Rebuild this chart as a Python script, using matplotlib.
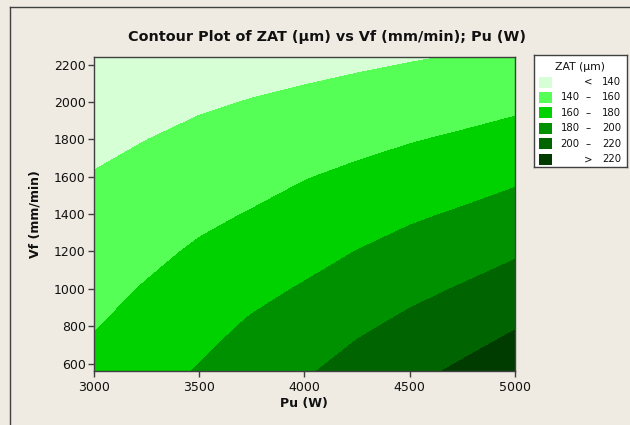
import numpy as np
import matplotlib
matplotlib.use("Agg")
import matplotlib.pyplot as plt
from matplotlib.patches import Rectangle
from matplotlib.lines import Line2D

# Process grid: laser power Pu (W) and feed rate Vf (mm/min)
pu = [3000, 3250, 3500, 3750, 4000, 4250, 4500, 4750, 5000]
vf = [560, 800, 1000, 1200, 1400, 1600, 1800, 2000, 2240]

# ZAT (um) on the grid, one list per Vf row (bottom to top), columns follow pu
zat_560 = [165.3, 173.0, 181.3, 190.1, 197.7, 207.4, 215.1, 223.0, 231.7]
zat_800 = [159.1, 166.6, 174.1, 182.3, 188.9, 196.9, 204.3, 211.3, 218.9]
zat_1000 = [154.6, 161.3, 168.2, 175.4, 181.5, 188.6, 195.3, 201.4, 208.3]
zat_1200 = [150.0, 155.9, 162.3, 168.2, 174.1, 180.3, 186.3, 191.7, 197.7]
zat_1400 = [145.4, 150.6, 156.2, 161.0, 166.7, 172.0, 177.3, 182.0, 187.4]
zat_1600 = [140.8, 145.2, 150.1, 154.2, 159.2, 163.6, 168.1, 172.2, 177.0]
zat_1800 = [136.3, 139.9, 144.0, 147.5, 151.4, 155.1, 158.9, 162.4, 166.5]
zat_2000 = [131.7, 134.5, 137.8, 140.7, 143.6, 146.6, 149.7, 152.7, 156.0]
zat_2240 = [126.2, 128.1, 130.5, 132.7, 134.2, 136.4, 138.7, 141.1, 143.6]

levels = [140, 160, 180, 200, 220]
colors = ["#D6FFD6", "#55FF55", "#00D200", "#009100", "#006400", "#003C00"]
x_ticks = [3000, 3500, 4000, 4500, 5000]
y_ticks = [600, 800, 1000, 1200, 1400, 1600, 1800, 2000, 2200]

Z = np.array([zat_560, zat_800, zat_1000, zat_1200, zat_1400,
              zat_1600, zat_1800, zat_2000, zat_2240])
X, Y = np.meshgrid(pu, vf)

BG = "#EFEBE2"
EDGE = "#404040"
FONT = "DejaVu Sans"
plt.rcParams["font.family"] = FONT

W, H = 630, 425
fig = plt.figure(figsize=(W / 100, H / 100), dpi=100, facecolor=BG)


def fx(px):
    return px / W


def fy(py):
    return 1 - py / H


# outer frame (top and left edges)
fig.add_artist(Line2D([fx(10), fx(10)], [fy(7), 0], color=EDGE, lw=1.0))
fig.add_artist(Line2D([fx(10), 1], [fy(7), fy(7)], color=EDGE, lw=1.0))

left, right, top, bottom = 94, 514.7, 57.3, 371
ax = fig.add_axes([fx(left), fy(bottom), fx(right - left), (bottom - top) / H])
bounds = [-1e9] + levels + [1e9]
ax.contourf(X, Y, Z, levels=bounds, colors=colors)
ax.set_xlim(3000, 5000)
ax.set_ylim(560, 2240)
ax.set_xticks(x_ticks)
ax.set_yticks(y_ticks)
ax.tick_params(direction="out", length=4, width=1, color=EDGE,
               labelsize=9, labelcolor="#111111", pad=2)
ax.tick_params(axis="x", pad=3)
for s in ax.spines.values():
    s.set_color(EDGE)
    s.set_linewidth(1.0)

fig.text(fx(326.5), fy(37), "Contour Plot of ZAT (µm) vs Vf (mm/min); Pu (W)",
         ha="center", va="center", fontsize=10.4, fontweight="bold", color="#111111")
fig.text(fx(304), fy(404), "Pu (W)", ha="center", va="center",
         fontsize=9, fontweight="bold", color="#111111")
fig.text(fx(35), fy(214), "Vf (mm/min)", ha="center", va="center", rotation=90,
         fontsize=9, fontweight="bold", color="#111111")

# legend box
lx0, lx1, ly0, ly1 = 534, 627, 55, 167
lax = fig.add_axes([fx(lx0), fy(ly1), fx(lx1 - lx0), (ly1 - ly0) / H])
lax.set_xlim(lx0, lx1)
lax.set_ylim(ly1, ly0)
lax.set_xticks([])
lax.set_yticks([])
lax.set_facecolor("white")
for s in lax.spines.values():
    s.set_color(EDGE)
    s.set_linewidth(1.0)

lax.text(580, 67, "ZAT (µm)", ha="center", va="center", fontsize=7.8, color="#111111")
row_y = [82, 97.4, 112.8, 128.2, 143.6, 159]
labels = []
labels.append(("", "<", str(levels[0])))
for lo, hi in zip(levels[:-1], levels[1:]):
    labels.append((str(lo), "–", str(hi)))
labels.append(("", ">", str(levels[-1])))
for yy, c, (lo, mid, hi) in zip(row_y, colors, labels):
    lax.add_patch(Rectangle((539, yy - 5.5), 13, 11, facecolor=c, edgecolor="none"))
    if lo:
        lax.text(560.5, yy, lo, ha="left", va="center", fontsize=7.3, color="#111111")
    lax.text(588, yy, mid, ha="center", va="center", fontsize=7.3, color="#111111")
    lax.text(621, yy, hi, ha="right", va="center", fontsize=7.3, color="#111111")

fig.savefig("out.png", dpi=100, facecolor=BG)
